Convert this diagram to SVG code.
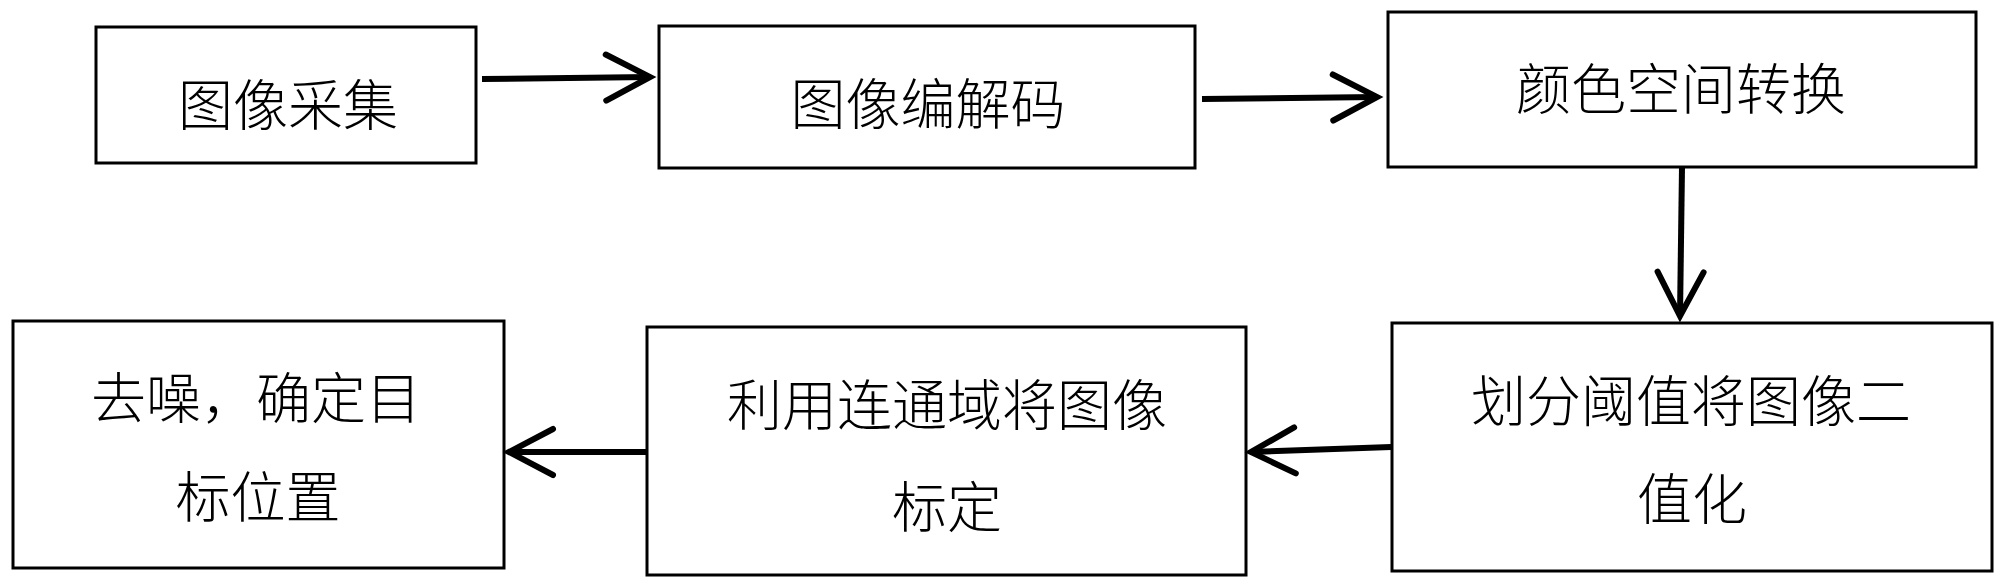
<svg xmlns="http://www.w3.org/2000/svg" width="2000" height="588" viewBox="0 0 2000 588">
<style>
.box{fill:#fff;stroke:#000;stroke-width:3}
.t{font-family:"Noto Sans CJK SC","Noto Sans CJK JP",sans-serif;font-size:55px;font-weight:300;fill:#000;text-anchor:middle;dominant-baseline:central}
.c{fill:none;stroke:#000;stroke-width:6;marker-end:url(#ah)}
</style>
<defs>
<marker id="ah" markerUnits="userSpaceOnUse" orient="auto" refX="0" refY="0" markerWidth="60" markerHeight="60" viewBox="-50 -30 60 60" overflow="visible">
<path d="M-44,-23 L0,0 L-44,23" fill="none" stroke="#000" stroke-width="6" stroke-linecap="round" stroke-linejoin="miter"/>
</marker>
</defs>
<rect width="2000" height="588" fill="#fff"/>
<g id="n1"><rect class="box" x="96" y="27" width="380" height="136"/><text class="t" x="288" y="101">图像采集</text></g>
<g id="n2"><rect class="box" x="659" y="26" width="536" height="142"/><text class="t" x="928" y="100">图像编解码</text></g>
<g id="n3"><rect class="box" x="1388" y="12" width="588" height="155"/><text class="t" x="1681" y="85">颜色空间转换</text></g>
<g id="n4"><rect class="box" x="1392" y="323" width="600" height="248"/><text class="t" x="1691" y="397">划分阈值将图像二</text><text class="t" x="1692" y="495">值化</text></g>
<g id="n5"><rect class="box" x="647" y="327" width="599" height="248"/><text class="t" x="947" y="401">利用连通域将图像</text><text class="t" x="947" y="503">标定</text></g>
<g id="n6"><rect class="box" x="13" y="321" width="491" height="247"/><text class="t" x="256" y="394">去噪，确定目</text><text class="t" x="258" y="493">标位置</text></g>
<g id="connectors">
<path class="c" d="M482,79 L650,77"/>
<path class="c" d="M1202,99 L1377,97"/>
<path class="c" d="M1682,167 L1680,316"/>
<path class="c" d="M1391,447 L1251,452"/>
<path class="c" d="M646,452 L509,452"/>
</g>
</svg>
